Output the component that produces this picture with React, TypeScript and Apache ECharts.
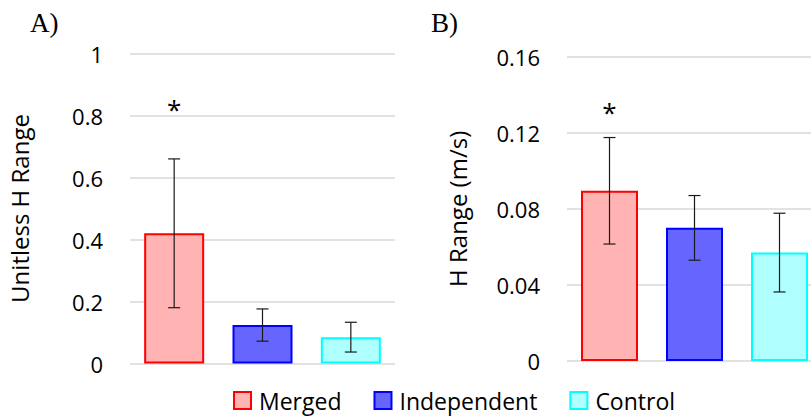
import React, { useEffect, useRef } from "react";
import * as echarts from "echarts";

const groups = ["Merged", "Independent", "Control"];
const fillColors = ["#FFB3B3", "#6666FF", "#B0FFFF"];
const borderColors = ["#FF0000", "#0000FF", "#00FFFF"];

const unitlessMean = [0.42, 0.124, 0.085];
const unitlessErr = [0.24, 0.052, 0.048];
const unitlessTicks = [0, 0.2, 0.4, 0.6, 0.8, 1];
const unitlessStarY = [0.82, null, null];

const speedMean = [0.0895, 0.07, 0.057];
const speedErr = [0.028, 0.017, 0.0207];
const speedTicks = [0, 0.04, 0.08, 0.12, 0.16];
const speedStarY = [0.131, null, null];

const FONT = "'Open Sans', 'Noto Sans', sans-serif";

function buildPanel(idx: number, means: number[], errs: number[], stars: (number | null)[], barW: number) {
  const series: any[] = [];
  groups.forEach((g, i) => {
    series.push({
      name: g,
      type: "bar",
      xAxisIndex: idx,
      yAxisIndex: idx,
      stack: "s" + idx,
      barWidth: barW,
      data: groups.map((_, j) => (j === i ? means[i] : "-")),
      itemStyle: { color: fillColors[i], borderColor: borderColors[i], borderWidth: 2 },
      silent: true,
    });
  });
  series.push({
    type: "custom",
    xAxisIndex: idx,
    yAxisIndex: idx,
    silent: true,
    data: means.map((m, i) => [i, m - errs[i], m + errs[i]]),
    renderItem: (params: any, api: any) => {
      const x = api.value(0);
      const lo = api.coord([x, api.value(1)]);
      const hi = api.coord([x, api.value(2)]);
      const hw = 6;
      const style = { stroke: "#1a1a1a", lineWidth: 1.2 };
      return {
        type: "group",
        children: [
          { type: "line", shape: { x1: lo[0], y1: lo[1], x2: hi[0], y2: hi[1] }, style },
          { type: "line", shape: { x1: lo[0] - hw, y1: lo[1], x2: lo[0] + hw, y2: lo[1] }, style },
          { type: "line", shape: { x1: hi[0] - hw, y1: hi[1], x2: hi[0] + hw, y2: hi[1] }, style },
        ],
      };
    },
    z: 5,
  });
  series.push({
    type: "custom",
    xAxisIndex: idx,
    yAxisIndex: idx,
    silent: true,
    data: stars.map((s, i) => (s == null ? null : [i, s])).filter((d) => d != null),
    renderItem: (params: any, api: any) => {
      const p = api.coord([api.value(0), api.value(1)]);
      return {
        type: "text",
        x: p[0],
        y: p[1],
        style: {
          text: "*",
          fontSize: 26,
          fontFamily: FONT,
          fill: "#000",
          align: "center",
          verticalAlign: "middle",
        },
      };
    },
  });
  return series;
}

export default function App() {
  const ref = useRef<HTMLDivElement>(null);
  useEffect(() => {
    const chart = echarts.init(ref.current!, null, { renderer: "svg" });
    const yAxisCommon = {
      type: "value",
      nameLocation: "middle",
      nameTextStyle: { fontSize: 24, fontFamily: FONT, color: "#000" },
      axisLabel: { fontSize: 22, fontFamily: FONT, color: "#000", margin: 27 },
      axisLine: { show: false },
      axisTick: { show: false },
      splitLine: { lineStyle: { color: "#D9D9D9", width: 1.5 } },
    };
    const xAxisCommon = {
      type: "category",
      data: groups,
      axisLabel: { show: false },
      axisTick: { show: false },
      axisLine: { show: false },
    };
    chart.setOption({
      animation: false,
      textStyle: { fontFamily: FONT },
      grid: [
        { left: 130, width: 265, top: 53.5, bottom: 52.5 },
        { left: 567, width: 255, top: 56.7, bottom: 55 },
      ],
      xAxis: [
        { ...xAxisCommon, gridIndex: 0 },
        { ...xAxisCommon, gridIndex: 1 },
      ],
      yAxis: [
        {
          ...yAxisCommon,
          gridIndex: 0,
          min: unitlessTicks[0],
          max: unitlessTicks[unitlessTicks.length - 1],
          interval: unitlessTicks[1] - unitlessTicks[0],
          name: "Unitless H Range",
          nameGap: 99,
        },
        {
          ...yAxisCommon,
          gridIndex: 1,
          min: speedTicks[0],
          max: speedTicks[speedTicks.length - 1],
          interval: speedTicks[1] - speedTicks[0],
          name: "H Range (m/s)",
          nameGap: 98,
        },
      ],
      legend: {
        data: groups,
        left: 233,
        top: 389,
        padding: 0,
        icon: "rect",
        itemWidth: 17,
        itemHeight: 17,
        itemGap: 32,
        textStyle: { fontSize: 23, fontFamily: FONT, color: "#000", padding: [0, 0, 0, 3] },
      },
      graphic: [
        { type: "text", left: 30, top: 9, style: { text: "A)", fontSize: 27, fontFamily: "'Liberation Serif', serif", fill: "#000" } },
        { type: "text", left: 431, top: 9, style: { text: "B)", fontSize: 27, fontFamily: "'Liberation Serif', serif", fill: "#000" } },
      ],
      series: [
        ...buildPanel(0, unitlessMean, unitlessErr, unitlessStarY, 60),
        ...buildPanel(1, speedMean, speedErr, speedStarY, 57),
      ],
    });
    return () => chart.dispose();
  }, []);
  return (
    <div style={{ width: 811, height: 416, position: "absolute", left: 0, top: 0, overflow: "hidden" }}>
      <div ref={ref} style={{ width: 830, height: 416 }} />
    </div>
  );
}
